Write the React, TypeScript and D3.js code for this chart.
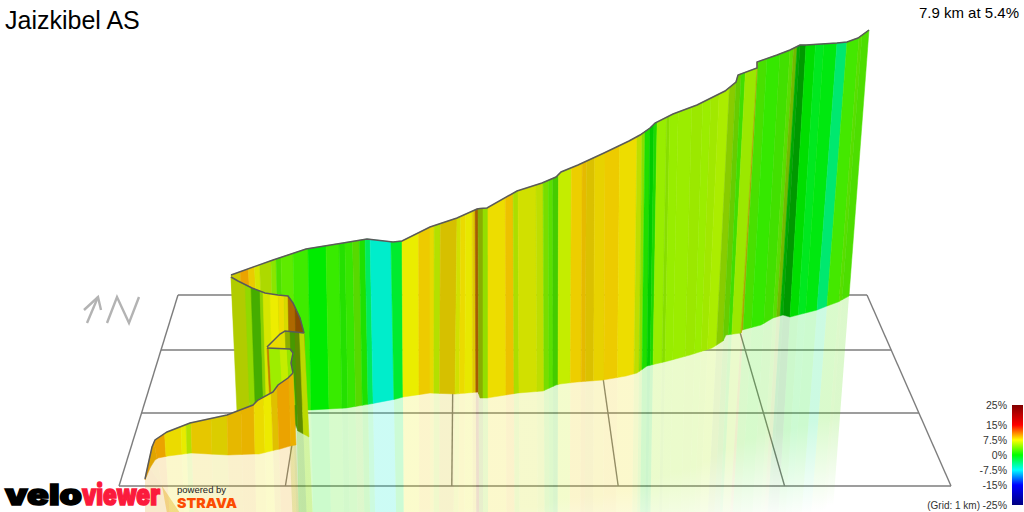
import React from 'react';
import * as d3 from 'd3';

const title = 'Jaizkibel AS';
const summary = '7.9 km at 5.4%';
const gridNote = '(Grid: 1 km)';

// gradient legend
const legendGrades = [25, 15, 7.5, 0, -7.5, -15, -25];
const legendColors = ['#800000', '#ff0000', '#ffff00', '#00ff00', '#00ffff', '#0000ff', '#000080'];

// floor grid
const gridKm = [0, 1, 2, 3, 4, 5];
const gridFrontX = [119, 951];
const gridBackX = [178, 867];
const gridRowY = [295, 350, 413, 486];

// long climb, the big wall
const mainStations = [234, 243, 251, 257, 262, 273, 278, 283, 295, 310, 328, 341, 347, 355, 362, 368, 373, 393, 403, 419, 430, 434, 440, 456, 460, 465, 472, 475, 478, 483, 488, 506, 514, 519, 537, 544, 549, 553, 558, 571, 582, 586, 594, 604, 618, 635, 640, 643, 648, 652, 655, 664, 667, 675, 688, 698, 705, 712, 721, 727, 733, 737, 748, 750, 757, 768, 778, 783, 788, 792, 799, 807, 814, 825, 837, 847, 850, 857];
const mainGrades = [7.5, 9.8, 8.5, 7, 6, 4.5, 2.5, 3, 2, 0, 1.8, 1.2, 1.8, 3, 1, -3, -6.4, -1.5, 7.4, 8.6, 7.9, 6, 8.3, 7, 8, 7.5, 8.2, 10.8, 6, 5, 8, 8.9, 5.8, 7, 6.4, 4, 3, 2.5, 6.2, 8.5, 8.9, 8.4, 8.2, 8.6, 8, 6.4, 4.6, 1, 0, 1, 4.8, 4.6, 4.8, 4.9, 5, 4.9, 5.2, 5.4, 5, 3.8, 2.2, 5, 7.5, 2.4, 1.7, 2.2, 3, 4.6, 0, 0, 0, -1, -0.5, -3.6, 2.2, 3, 2.6];
const mainShades = [0.8, 0.92, 0.92, 0.9, 0.85, 0.9, 0.88, 0.92, 0.92, 0.92, 0.92, 0.88, 0.9, 0.85, 0.88, 0.92, 0.93, 0.92, 0.93, 0.93, 0.9, 0.88, 0.84, 0.88, 0.92, 0.91, 0.87, 0.65, 0.68, 0.87, 0.93, 0.93, 0.87, 0.88, 0.87, 0.87, 0.88, 0.8, 0.93, 0.93, 0.9, 0.86, 0.91, 0.93, 0.93, 0.87, 0.87, 0.87, 0.8, 0.85, 0.93, 0.87, 0.93, 0.93, 0.91, 0.93, 0.91, 0.93, 0.8, 0.8, 0.87, 0.91, 0.67, 0.88, 0.91, 0.88, 0.87, 0.73, 0.67, 0.6, 0.87, 0.91, 0.91, 0.91, 0.91, 0.87, 0.87];
const mainKnots = [234, 275, 308, 345, 370, 395, 403, 430, 456, 477, 480, 487, 518, 543, 556, 560, 578, 603, 627, 638, 648, 653, 670, 693, 717, 727, 730, 748, 749, 765, 778, 792, 799, 825, 837, 846, 857];
const mainTopX = [231, 273, 306, 343, 367, 393, 402, 430, 457, 477, 480, 487, 517, 542, 556, 561, 578, 604, 629, 640, 650, 655, 673, 697, 725, 736, 738, 757, 757, 777, 790, 800, 806, 837, 847, 858, 869];
const mainTopY = [275, 260, 249, 243, 239, 242, 241, 227, 218, 209, 208.5, 208, 191, 183, 177, 172, 165, 153, 141, 135, 128, 123, 114, 105, 91, 82, 75, 68, 62, 55, 50, 45, 45, 43, 42, 38, 30];
const mainBaseX = [238, 277, 309, 346, 370, 396, 403, 430, 455, 478, 480, 487, 518, 543, 556, 560, 577, 603, 626, 637, 647, 651, 668, 690, 712, 723, 726, 741, 742, 761, 773, 783, 790, 817, 827, 838, 849];
const mainBaseY = [400, 408, 410, 408, 404, 399, 397, 393, 394, 392, 398, 398, 393, 391, 385, 384, 382, 380, 376, 373, 366, 365, 361, 355, 348, 341, 335, 333, 330, 325, 318, 315, 317, 310, 306, 302, 296];

// hairpin, back face
const backStations = [232, 245, 251, 260, 263, 270, 278, 284, 288, 295, 304];
const backGrades = [6.5, 5, 3, 5, 7, 7.5, 8, 7.5, 10.5, 11];
const backShades = [0.8, 0.85, 0.68, 0.82, 0.9, 0.93, 0.93, 0.85, 0.68, 0.55];
const backKnots = [232, 238, 252, 265, 278, 288, 293, 300, 304];
const backTopX = [231, 238, 252, 265, 278, 288, 293, 300, 304];
const backTopY = [277, 281, 288, 293, 295, 296, 303, 318, 333];
const backBaseX = [237, 243, 256, 268, 281, 290, 295, 302, 306];
const backBaseY = [412, 412, 405, 405, 405, 405, 405, 405, 405];

// hairpin, column that runs back to the left
const columnStations = [267, 280, 285, 290, 295, 300, 305];
const columnGrades = [8, 7.5, 6, 3.5, 5, 6.5];
const columnShades = [0.92, 0.88, 0.68, 0.6, 0.55, 0.85];
const columnKnots = [267, 280, 285, 295, 305];
const columnTopX = [267, 280, 285, 295, 304];
const columnTopY = [347, 334, 331, 332, 333];
const columnBaseX = [270, 283, 288, 298, 309];
const columnBaseY = [405, 405, 405, 431, 437];

// hairpin, short piece turning into the ramp
const turnStations = [267, 269, 280, 287, 293];
const turnGrades = [10, 5, 6.2, 4.8];
const turnShades = [0.75, 0.93, 0.93, 0.9];
const turnKnots = [267, 290, 291, 292, 293];
const turnTopX = [267, 290, 293, 291, 293];
const turnTopY = [348, 349, 353, 363, 373];
const turnBaseX = [270, 293, 294, 294, 295];
const turnBaseY = [405, 405, 405, 405, 405];

// opening ramp at the front
const frontStations = [145, 150, 157, 166, 182, 187, 192, 212, 228, 242, 255, 265, 273, 279, 291, 296];
const frontGrades = [10, 9.5, 9.8, 8, 7.4, 6, 8.5, 8, 9, 9.2, 8, 7.6, 8.6, 9.8, 9.4];
const frontShades = [0.88, 0.88, 0.92, 0.92, 0.92, 0.88, 0.9, 0.86, 0.9, 0.91, 0.92, 0.93, 0.88, 0.92, 0.92];
const frontKnots = [145, 150, 155, 158, 168, 191, 228, 254, 259, 275, 280, 290, 296];
const frontTopX = [145, 148, 152, 155, 167, 190, 227, 253, 258, 273, 278, 288, 293];
const frontTopY = [479, 465, 447, 440, 432, 423, 415, 405, 400, 392, 385, 378, 373];
const frontBaseX = [145, 150, 155, 158, 168, 191, 228, 254, 259, 275, 280, 290, 296];
const frontBaseY = [480, 468, 460, 458, 456, 453, 455, 454, 454, 450, 449, 446, 445];

const compassArrow = [[87, 323], [98, 297]];
const compassWings = [[84, 310], [98, 297], [101, 310]];
const compassN = [[107, 323], [117, 297], [129, 323], [139, 297]];

const FONT = '"Liberation Sans", Helvetica, Arial, sans-serif';
const GRID = '#7d7d7d';

const gradeColor = d3.scaleLinear<string>().domain(legendGrades).range(legendColors);
const legendY = d3.scaleLinear().domain([-25, 25]).range([505, 405]);

function stripColor(grade: number, shade: number) {
  const c = d3.rgb(gradeColor(grade));
  return d3.rgb(c.r * shade, c.g * shade, c.b * shade).formatHex();
}

const pathLine = d3.line<number[]>().x((d) => d[0]).y((d) => d[1]);

function makeRibbon(name: string, stations: number[], grades: number[], shades: number[], knots: number[], topX: number[], topY: number[], baseX: number[], baseY: number[], reflectFrom: number) {
  const tx = d3.scaleLinear().domain(knots).range(topX);
  const ty = d3.scaleLinear().domain(knots).range(topY);
  const bx = d3.scaleLinear().domain(knots).range(baseX);
  const by = d3.scaleLinear().domain(knots).range(baseY);
  const span = (a: number, b: number) => [a, ...knots.filter((k) => k > a && k < b), b];

  const strips = grades.map((g, i) => {
    const ss = span(stations[i], stations[i + 1]);
    const top = ss.map((s) => [tx(s), ty(s)]);
    const base = ss.map((s) => [bx(s), by(s)]);
    const drop = ss.map((s) => {
      // mirror the wall in the floor, long enough to run off the fade
      const h = by(s) - ty(s);
      const len = Math.max(h, 220);
      return [bx(s) - (tx(s) - bx(s)) * (len / h), by(s) + len];
    });
    return {
      id: `${name}-${i}`,
      fill: stripColor(g, shades[i]),
      wall: pathLine([...top, ...base.slice().reverse()]) + 'Z',
      mirror: pathLine([...base, ...drop.slice().reverse()]) + 'Z',
      y0: d3.min(base, (p) => p[1]) as number,
      reflect: stations[i] >= reflectFrom,
    };
  });

  const outline = pathLine(span(stations[0], stations[stations.length - 1]).map((s) => [tx(s), ty(s)]));
  return { strips, outline };
}

const ribbons = [
  makeRibbon('main', mainStations, mainGrades, mainShades, mainKnots, mainTopX, mainTopY, mainBaseX, mainBaseY, 290),
  makeRibbon('back', backStations, backGrades, backShades, backKnots, backTopX, backTopY, backBaseX, backBaseY, 9999),
  makeRibbon('column', columnStations, columnGrades, columnShades, columnKnots, columnTopX, columnTopY, columnBaseX, columnBaseY, 285),
  makeRibbon('turn', turnStations, turnGrades, turnShades, turnKnots, turnTopX, turnTopY, turnBaseX, turnBaseY, 9999),
  makeRibbon('front', frontStations, frontGrades, frontShades, frontKnots, frontTopX, frontTopY, frontBaseX, frontBaseY, 0),
];

const rowT = d3.scaleLinear().domain([gridRowY[0], gridRowY[gridRowY.length - 1]]).range([0, 1]);
const backKm = d3.scaleLinear().domain([0, 5]).range(gridBackX);
const frontKm = d3.scaleLinear().domain([0, 5]).range(gridFrontX);
const leftEdge = d3.scaleLinear().domain([0, 1]).range([gridBackX[0], gridFrontX[0]]);
const rightEdge = d3.scaleLinear().domain([0, 1]).range([gridBackX[1], gridFrontX[1]]);

export default function App() {
  const all = ribbons.flatMap((r) => r.strips).filter((s) => s.reflect);
  return (
    <svg width={1024} height={512} style={{ position: 'absolute', left: 0, top: 0, background: '#fff' }} fontFamily={FONT}>
      <defs>
        <linearGradient id="legend" x1="0" y1="0" x2="0" y2="1">
          {legendGrades.map((g, i) => (
            <stop key={g} offset={(25 - g) / 50} stopColor={legendColors[i]} />
          ))}
        </linearGradient>
        {all.map((s) => (
          <linearGradient key={s.id} id={`fade-${s.id}`} gradientUnits="userSpaceOnUse" x1="0" x2="0" y1={s.y0} y2={s.y0 + 210}>
            <stop offset="0" stopColor={s.fill} stopOpacity={0.2} />
            <stop offset="0.55" stopColor={s.fill} stopOpacity={0.2} />
            <stop offset="1" stopColor={s.fill} stopOpacity={0} />
          </linearGradient>
        ))}
      </defs>

      <g stroke={GRID} strokeWidth={1.4} fill="none">
        {gridRowY.map((y) => (
          <line key={y} x1={leftEdge(rowT(y))} x2={rightEdge(rowT(y))} y1={y} y2={y} />
        ))}
        {gridKm.map((k) => (
          <line key={k} x1={backKm(k)} y1={gridRowY[0]} x2={frontKm(k)} y2={gridRowY[3]} />
        ))}
      </g>

      <g>
        {all.map((s) => (
          <path key={s.id} d={s.mirror} fill={`url(#fade-${s.id})`} />
        ))}
      </g>

      {ribbons.map((r, i) => (
        <g key={i}>
          {r.strips.map((s) => (
            <path key={s.id} d={s.wall} fill={s.fill} stroke={s.fill} strokeWidth={0.5} />
          ))}
          <path d={r.outline as string} fill="none" stroke="#5a5a5a" strokeWidth={1.5} />
        </g>
      ))}

      <g fill="none" stroke="#b3b3b3" strokeWidth={2.4}>
        <path d={pathLine(compassArrow) as string} />
        <path d={pathLine(compassWings) as string} />
        <path d={pathLine(compassN) as string} />
      </g>

      <text x={5} y={29} fontSize={25} fill="#000">{title}</text>
      <text x={1019} y={18} fontSize={15} textAnchor="end" fill="#000">{summary}</text>

      <rect x={1012} y={405} width={11} height={100} fill="url(#legend)" />
      <g fontSize={10.5} fill="#333" textAnchor="end">
        {legendGrades.map((g) => (
          <text key={g} x={1007} y={legendY(g) + 3.5}>{`${g}%`}</text>
        ))}
        <text x={980} y={508.5} fontSize={10}>{gridNote}</text>
      </g>

      <g fontFamily="Inter, sans-serif" fontWeight={900} fontSize={28} stroke="currentColor" strokeWidth={1.5}>
        <text x={5} y={505} fill="#000" color="#000" textLength={77} lengthAdjust="spacingAndGlyphs">velo</text>
        <text x={82} y={505} fill="#fb1a3c" color="#fb1a3c" textLength={78} lengthAdjust="spacingAndGlyphs">viewer</text>
      </g>
      <text x={177} y={492.5} fontSize={9.5} fill="#222">powered by</text>
      <text x={177} y={508} fontSize={13.5} fontWeight={900} fontFamily="Inter, sans-serif" fill="#fc4c02" textLength={60} lengthAdjust="spacingAndGlyphs">STRAVA</text>
    </svg>
  );
}
